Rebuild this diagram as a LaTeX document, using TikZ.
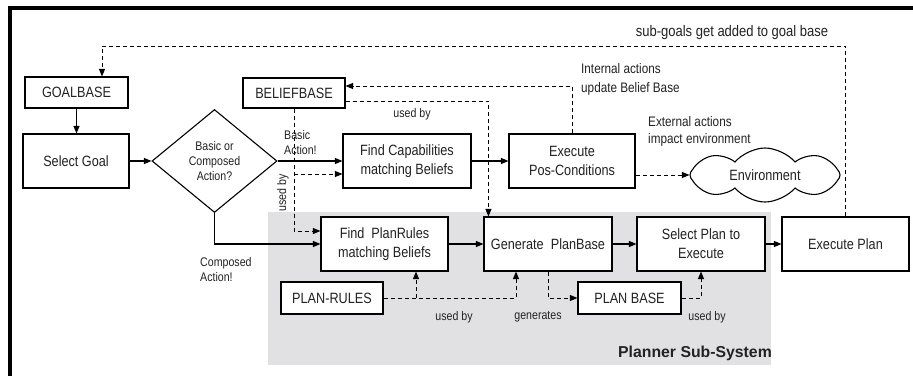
\documentclass[tikz,border=0pt]{standalone}
\usepackage{fontspec}
\setmainfont{Liberation Sans}[FakeStretch=0.85]
\newfontfamily\boldsans{Liberation Sans}
\usetikzlibrary{arrows.meta,shapes.geometric,shapes.symbols,calc}
\definecolor{graybg}{HTML}{E1E1E3}
\definecolor{ink}{HTML}{222222}
\begin{document}
\begin{tikzpicture}[x=1pt,y=-1pt,
  box/.style={draw, fill=white, line width=1.1pt, inner sep=0pt, align=center,
    text=ink, font=\fontsize{14.9}{19}\selectfont},
  solidc/.style={line width=1.1pt, -{Triangle[length=7.5pt,width=6pt]}},
  dsh/.style={line width=1pt, dash pattern=on 4pt off 3pt, -{Triangle[length=7.5pt,width=6pt]}},
  small/.style={text=ink, inner sep=0pt, font=\fontsize{12.5}{15}\selectfont},
  lbl/.style={text=ink, inner sep=0pt, font=\fontsize{13.8}{18}\selectfont}]
\useasboundingbox (0,0) rectangle (913,376);
\fill[white] (0,0) rectangle (913,376);
% frame
\draw[line width=3.5pt] (913,8) -- (10,8) -- (10,376);
% planner area
\fill[graybg] (268,212) rectangle (771,365);

% nodes
\node[box, minimum width=103pt, minimum height=31pt] (goalbase) at (76.5,92.5) {GOALBASE};
\node[box, minimum width=106pt, minimum height=54pt] (selectgoal) at (76,161) {Select Goal};
\node[diamond, draw, fill=white, line width=1.1pt, minimum width=125pt, minimum height=103pt,
  inner sep=0pt, align=center, text=ink, font=\fontsize{12.5}{15}\selectfont] (decide) at (214.5,161) {Basic or\\Composed\\Action?};
\node[box, minimum width=102pt, minimum height=30pt] (beliefbase) at (294,93) {BELIEFBASE};
\node[box, minimum width=128pt, minimum height=54pt] (findcap) at (407,161) {Find Capabilities\\matching Beliefs};
\node[box, minimum width=126pt, minimum height=54pt] (execute) at (572,161) {Execute\\Pos-Conditions};
\node[cloud, draw, fill=white, line width=1.1pt, cloud puffs=8, cloud puff arc=100, aspect=2.8,
  minimum width=150pt, minimum height=54pt, inner sep=0pt, text=ink,
  font=\fontsize{14.9}{19}\selectfont] (env) at (765,175) {Environment};
\node[box, minimum width=127pt, minimum height=54pt] (findplan) at (384.5,244) {Find\ \ PlanRules\\matching Beliefs};
\node[box, minimum width=128pt, minimum height=54pt] (generate) at (548,244) {Generate\ \ PlanBase};
\node[box, minimum width=128pt, minimum height=54pt] (selectplan) at (701,244) {Select Plan to\\Execute};
\node[box, minimum width=127pt, minimum height=54pt] (executeplan) at (845.5,244) {Execute Plan};
\node[box, minimum width=102pt, minimum height=32pt] (planrules) at (332,298) {PLAN-RULES};
\node[box, minimum width=103pt, minimum height=32pt] (planbase) at (629.5,298) {PLAN BASE};

% solid connectors
\draw[solidc] (goalbase.south) -- (goalbase.south |- selectgoal.north);
\draw[solidc] (selectgoal.east) -- (decide.west);
\draw[solidc] (decide.east) -- (findcap.west);
\draw[solidc] (decide.south) |- (findplan.west);
\draw[solidc] (findcap.east) -- (execute.west);
\draw[solidc] (findplan.east) -- (generate.west);
\draw[solidc] (generate.east) -- (selectplan.west);
\draw[solidc] (selectplan.east) -- (executeplan.west);

% dashed connectors
\coordinate (b1) at ($(findcap.west)+(0,13)$);
\coordinate (b2) at ($(findplan.west)+(0,-13)$);
\draw[dsh] (beliefbase.south) |- (b2);
\draw[dsh] (beliefbase.south |- b1) -- (b1);
\coordinate (g1) at ($(generate.north west)+(5,0)$);
\coordinate (bb1) at ($(beliefbase.east)+(0,8)$);
\draw[dsh] (bb1) -| (g1);
\coordinate (bb2) at ($(beliefbase.east)+(0,-7)$);
\draw[dsh] (execute.north) |- (bb2);
\coordinate (e1) at ($(execute.east)+(0,14)$);
\draw[dsh] (e1) -- (env.west);
\coordinate (gbin) at ($(goalbase.north)+(25.5,0)$);
\coordinate (topy) at (0,46);
\draw[dsh] (executeplan.north) -- (executeplan.north |- topy) -- (gbin |- topy) -- (gbin);
\coordinate (pr1) at ($(findplan.south)+(31.5,0)$);
\coordinate (pr2) at ($(generate.south)+(-32,0)$);
\draw[dsh] (planrules.east) -| (pr2);
\draw[dsh] (pr1 |- planrules.east) -- (pr1);
\draw[dsh] (generate.south) |- (planbase.west);
\draw[dsh] (planbase.east) -| (selectplan.south);

% labels
\node[small, anchor=west, align=left] (lbasic) at (284,143) {Basic\\Action!};
\node[small, rotate=90] (lused1) at (283,193) {used by};
\node[small] (lused2) at (412,114) {used by};
\node[lbl, anchor=west, align=left, font=\fontsize{13.8}{19}\selectfont] (lint) at (581,79.5) {Internal actions\\update Belief Base};
\node[lbl, font=\fontsize{15.3}{18}\selectfont] (lsub) at (732,33) {sub-goals get added to goal base};
\node[lbl, anchor=west, align=left, font=\fontsize{13.8}{17}\selectfont] (lext) at (648,131.5) {External actions\\impact environment};
\node[small, anchor=west, align=left] (lcomp) at (200,269.5) {Composed\\Action!};
\node[small] (lused3) at (454,317) {used by};
\node[small] (lgen) at (538,317) {generates};
\node[small] (lused4) at (707,317) {used by};
\node[text=ink, inner sep=0pt, font=\boldsans\bfseries\fontsize{15.8}{18}\selectfont] (lplanner) at (695,353) {Planner Sub-System};
\end{tikzpicture}
\end{document}
